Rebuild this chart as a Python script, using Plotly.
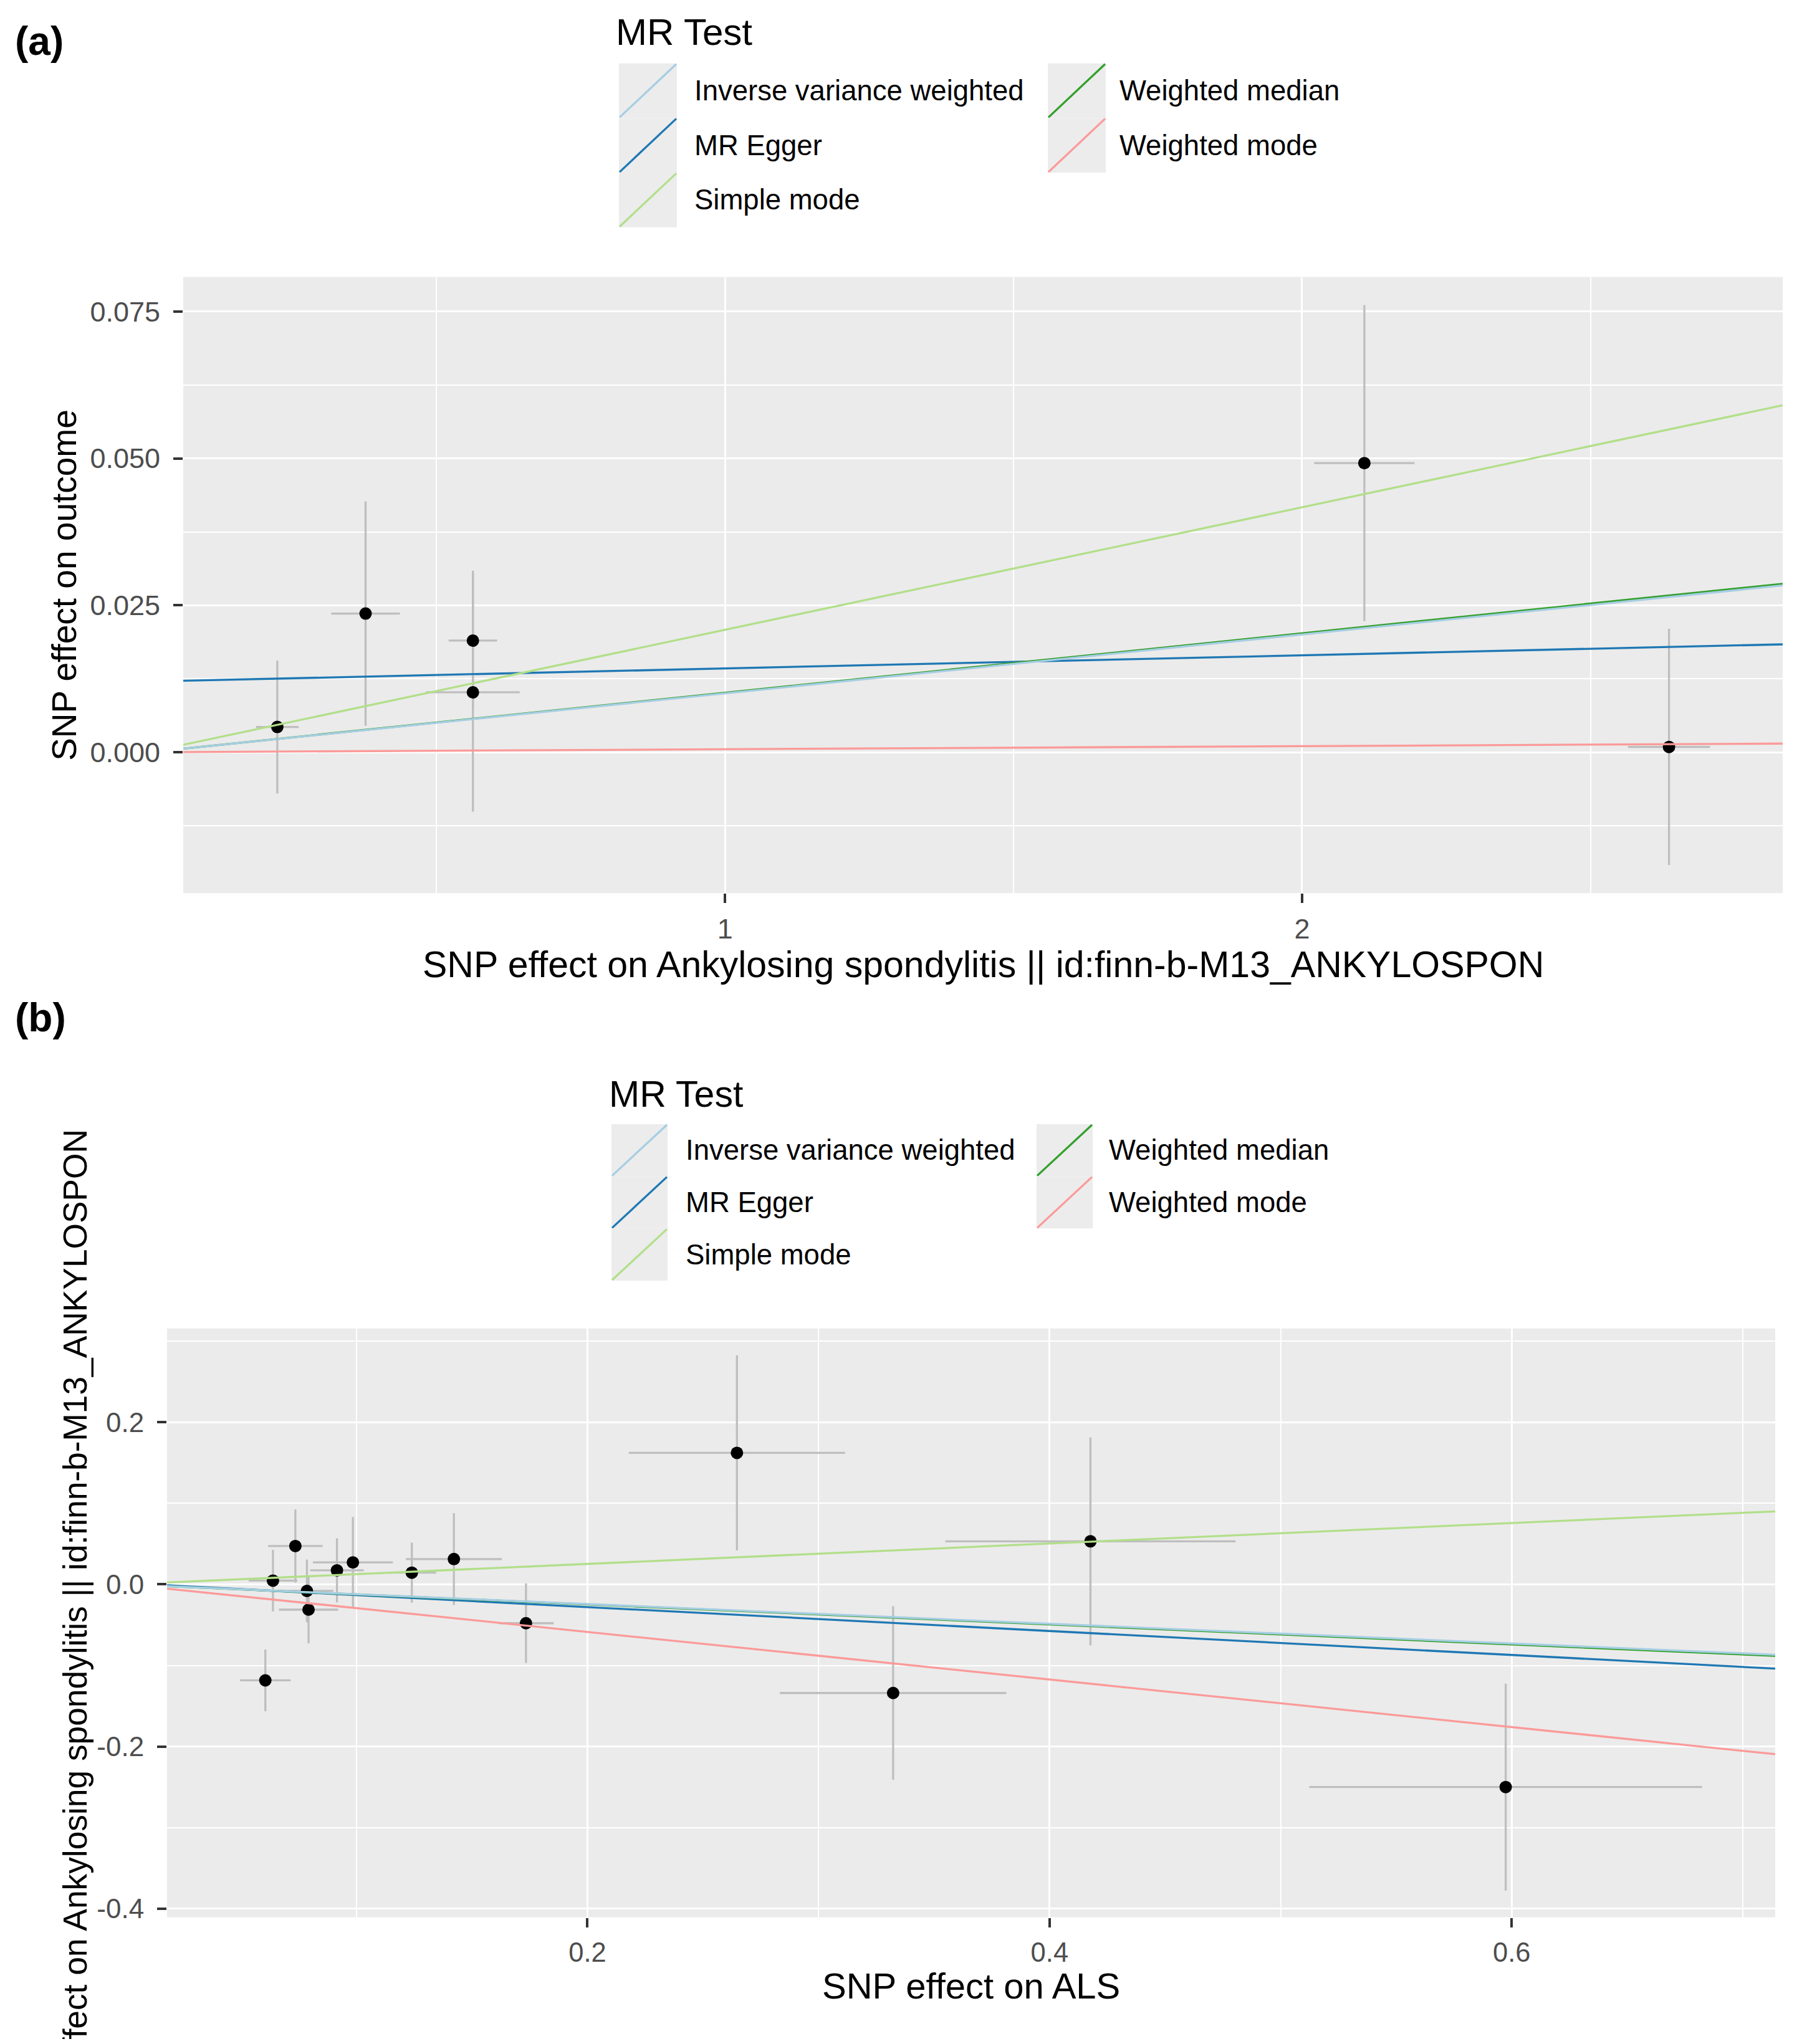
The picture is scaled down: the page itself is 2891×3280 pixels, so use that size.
import plotly.graph_objects as go

# page is 2891 x 3280; the html body adds an 8px margin, so the figure is
# drawn 8px in from the top-left and sized to fit the window exactly
PAGE_W, PAGE_H = 2891, 3280
OFF = 8
W, H = PAGE_W - 2 * OFF, PAGE_H - 2 * OFF
FONT = "Liberation Sans, Arial, sans-serif"

# ---------------- data ----------------
methods = ["Inverse variance weighted", "MR Egger", "Simple mode",
           "Weighted median", "Weighted mode"]
method_colors = ["#a6cee3", "#1f78b4", "#b2df8a", "#33a02c", "#fb9a99"]
# order in which ggplot drew the ablines (rows of mr() output)
draw_order = ["MR Egger", "Weighted median", "Inverse variance weighted",
              "Simple mode", "Weighted mode"]

# Panel (a): exposure = Ankylosing spondylitis, outcome
a_bx = [0.224, 0.377, 0.563, 0.563, 2.108, 2.636]
a_by = [0.0043, 0.0236, 0.0190, 0.0102, 0.0492, 0.0009]
a_sx = [0.037, 0.0595, 0.042, 0.081, 0.087, 0.071]
a_sy = [0.0113, 0.0191, 0.0119, 0.0203, 0.0269, 0.0201]
a_intercept = [0.0, 0.01203, 0.0, 0.0, 0.0]
a_slope = [0.01002, 0.002235, 0.02084, 0.01012, 0.00052]
a_xticks = [1, 2]
a_xticklabels = ["1", "2"]
a_yticks = [0.0, 0.025, 0.05, 0.075]
a_yticklabels = ["0.000", "0.025", "0.050", "0.075"]

# Panel (b): exposure = ALS, outcome = Ankylosing spondylitis
b_bx = [0.0606, 0.0639, 0.0736, 0.0786, 0.0793, 0.0916, 0.0985, 0.1240,
        0.1422, 0.1734, 0.2647, 0.3323, 0.4177, 0.5974]
b_by = [-0.1184, 0.0046, 0.0473, -0.0081, -0.0312, 0.0173, 0.0271, 0.0144,
        0.0312, -0.0479, 0.1622, -0.1340, 0.0531, -0.2500]
b_sx = [0.0109, 0.0105, 0.0118, 0.0115, 0.0128, 0.0116, 0.0173, 0.0105,
        0.0208, 0.0120, 0.0468, 0.0490, 0.0628, 0.0850]
b_sy = [0.0381, 0.0380, 0.0451, 0.0387, 0.0415, 0.0395, 0.0560, 0.0370,
        0.0566, 0.0490, 0.1204, 0.1070, 0.1282, 0.1276]
b_intercept = [0.0, 0.0015, 0.0, 0.0, 0.0]
b_slope = [-0.1215, -0.1476, 0.1261, -0.1235, -0.2934]
b_xticks = [0.2, 0.4, 0.6]
b_xticklabels = ["0.2", "0.4", "0.6"]
b_yticks = [-0.4, -0.2, 0.0, 0.2]
b_yticklabels = ["-0.4", "-0.2", "0.0", "0.2"]

a_xtitle = "SNP effect on Ankylosing spondylitis || id:finn-b-M13_ANKYLOSPON"
a_ytitle = "SNP effect on outcome"
b_xtitle = "SNP effect on ALS"
b_ytitle = "SNP effect on Ankylosing spondylitis || id:finn-b-M13_ANKYLOSPON"
legend_title = "MR Test"


def expanded(vals, errs):
    lo = min(v - e for v, e in zip(vals, errs))
    hi = max(v + e for v, e in zip(vals, errs))
    pad = 0.05 * (hi - lo)
    return [lo - pad, hi + pad]


fig = go.Figure()


def add_panel(bx, by, sx, sy, icpt, slope, xa, ya):
    xr = expanded(bx, sx)
    yr = expanded(by, sy)
    fig.add_trace(go.Scatter(
        x=bx, y=by, mode="markers", xaxis=xa, yaxis=ya, showlegend=False,
        marker=dict(color="black", size=20),
        error_x=dict(type="data", array=sx, color="#bebebe", thickness=3.3, width=0),
        error_y=dict(type="data", array=sy, color="#bebebe", thickness=3.3, width=0),
    ))
    for m in draw_order:
        i = methods.index(m)
        x0, x1 = xr
        fig.add_trace(go.Scatter(
            x=[x0, x1], y=[icpt[i] + slope[i] * x0, icpt[i] + slope[i] * x1],
            mode="lines", xaxis=xa, yaxis=ya, name=m, showlegend=False,
            line=dict(color=method_colors[i], width=3.3),
        ))
    return xr, yr


a_xr, a_yr = add_panel(a_bx, a_by, a_sx, a_sy, a_intercept, a_slope, "x", "y")
b_xr, b_yr = add_panel(b_bx, b_by, b_sx, b_sy, b_intercept, b_slope, "x2", "y2")

# panel geometry (page pixels)
A = dict(l=294, r=2860, t=446, b=1438)
B = dict(l=268, r=2848, t=2139, b=3087)


def px(x):
    return (x - OFF) / W


def py(y):
    return 1 - (y - OFF) / H


def axis_common(size, standoff):
    return dict(
        showgrid=True, gridcolor="white", gridwidth=3, zeroline=False,
        showline=False, ticks="outside", ticklen=15, tickwidth=3.5,
        tickcolor="#333333", tickfont=dict(family=FONT, size=size, color="#4d4d4d"),
        tickmode="array", ticklabelstandoff=standoff,
    )


def minor(step):
    return dict(tickmode="linear", tick0=0, dtick=step, showgrid=True,
                gridcolor="white", gridwidth=1.5, ticklen=0)


fig.update_layout(
    width=W, height=H, margin=dict(l=0, r=0, t=0, b=0),
    paper_bgcolor="white", plot_bgcolor="#ebebeb", showlegend=False,
    xaxis=dict(**axis_common(45, 3), domain=[px(A["l"]), px(A["r"])], range=a_xr,
               tickvals=a_xticks, ticktext=a_xticklabels, anchor="y", minor=minor(0.5)),
    yaxis=dict(**axis_common(45, 12), domain=[py(A["b"]), py(A["t"])], range=a_yr,
               tickvals=a_yticks, ticktext=a_yticklabels, anchor="x", minor=minor(0.0125)),
    xaxis2=dict(**axis_common(43.5, 3), domain=[px(B["l"]), px(B["r"])], range=b_xr,
                tickvals=b_xticks, ticktext=b_xticklabels, anchor="y2", minor=minor(0.1)),
    yaxis2=dict(**axis_common(44, 12), domain=[py(B["b"]), py(B["t"])], range=b_yr,
                tickvals=b_yticks, ticktext=b_yticklabels, anchor="x2", minor=minor(0.1)),
)

ann = []
shapes = []


def text(x, y, s, size, xanchor="left", yanchor="middle", angle=0, bold=False,
         color="black"):
    ann.append(dict(
        x=px(x), y=py(y), xref="paper", yref="paper",
        text=("<b>%s</b>" % s) if bold else s,
        showarrow=False, xanchor=xanchor, yanchor=yanchor, textangle=angle,
        font=dict(family=FONT, size=size, color=color)))


# panel labels
text(22, 66, "(a)", 64, bold=True)
text(22, 1638, "(b)", 64, bold=True)

# axis titles
text((A["l"] + A["r"]) / 2, 1553, a_xtitle, 59, xanchor="center")
text(103, (A["t"] + A["b"]) / 2, a_ytitle, 55, xanchor="center", angle=-90)
text((B["l"] + B["r"]) / 2, 3197, b_xtitle, 58, xanchor="center")
text(120, 1817, b_ytitle, 53.3, xanchor="center", yanchor="top", angle=-90)


def legend(title_x, title_y, title_size, key_x, text_x, key_top, key_w, key_h,
           size):
    text(title_x, title_y, legend_title, title_size)
    # two columns, filled column-major: 3 rows in the first column
    for i, m in enumerate(methods):
        col, row = divmod(i, 3)
        kx0 = key_x[col]
        ky0 = key_top + row * key_h
        shapes.append(dict(type="rect", xref="paper", yref="paper",
                           x0=px(kx0), x1=px(kx0 + key_w),
                           y0=py(ky0 + key_h), y1=py(ky0),
                           fillcolor="#ececec", line=dict(width=0), layer="above"))
        shapes.append(dict(type="line", xref="paper", yref="paper",
                           x0=px(kx0 + 1), x1=px(kx0 + key_w - 1),
                           y0=py(ky0 + key_h - 1), y1=py(ky0 + 1),
                           line=dict(color=method_colors[i], width=3.3), layer="above"))
        text(text_x[col], ky0 + key_h / 2, m, size)


legend(986, 52, 60, [993, 1681], [1112, 1794], 102, 93, 88, 45.5)
legend(975, 1762, 59, [981, 1663], [1098, 1777], 1810, 90, 84, 45.5)

fig.update_layout(annotations=ann, shapes=shapes)
fig.write_html("out.html")
